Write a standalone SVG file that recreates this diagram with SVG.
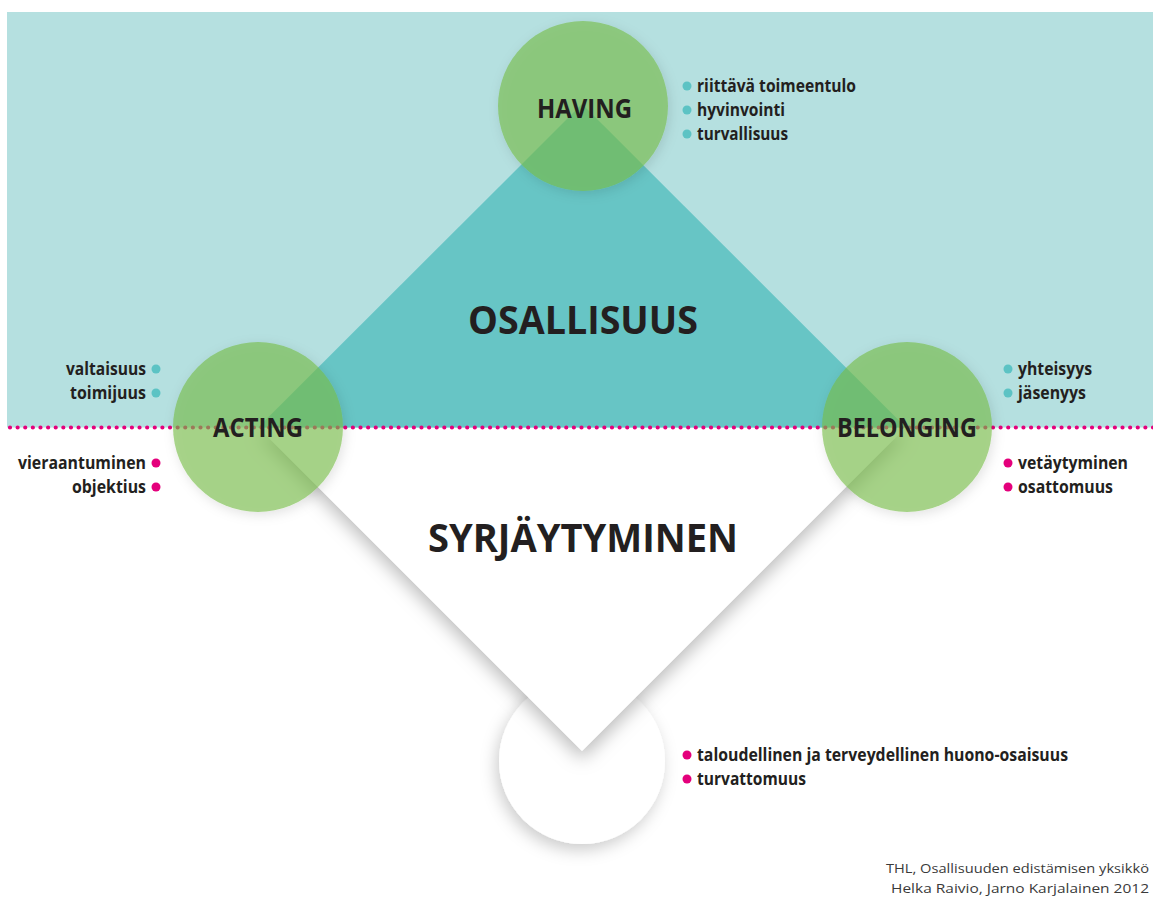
<svg xmlns="http://www.w3.org/2000/svg" width="1153" height="899" viewBox="0 0 1153 899">
  <defs>
    <style>
      .big { font-family: "Open Sans", "Noto Sans", "DejaVu Sans", sans-serif; font-weight: 700; fill: #231f20; }
      .lbl { font-family: "Open Sans", "Noto Sans", "DejaVu Sans", sans-serif; font-weight: 700; fill: #231f20; font-size: 27px; }
      .item { font-family: "Open Sans", "Noto Sans", "DejaVu Sans", sans-serif; font-weight: 700; fill: #231f20; font-size: 17px; }
      .foot { font-family: "Open Sans", "Noto Sans", "DejaVu Sans", sans-serif; font-weight: 400; fill: #3a3a3a; font-size: 13px; }
      .green { fill: #75bb45; fill-opacity: 0.63; }
      .tdot { fill: #5cc3c4; }
      .mdot { fill: #e4007c; }
    </style>
    <filter id="shOut" x="-30%" y="-30%" width="160%" height="160%">
      <feGaussianBlur in="SourceAlpha" stdDeviation="6"/>
      <feOffset dx="2" dy="3" result="b"/>
      <feComposite in="b" in2="SourceAlpha" operator="out" result="o"/>
      <feFlood flood-color="#000" flood-opacity="0.18"/>
      <feComposite in2="o" operator="in" result="s"/>
      <feMerge><feMergeNode in="s"/><feMergeNode in="SourceGraphic"/></feMerge>
    </filter>
    <filter id="shTri" x="-20%" y="-20%" width="140%" height="160%">
      <feGaussianBlur in="SourceAlpha" stdDeviation="9"/>
      <feOffset dx="0" dy="8" result="b"/>
      <feFlood flood-color="#000" flood-opacity="0.26"/>
      <feComposite in2="b" operator="in" result="s"/>
      <feMerge><feMergeNode in="s"/><feMergeNode in="SourceGraphic"/></feMerge>
    </filter>
    <filter id="shBot" x="-30%" y="-30%" width="160%" height="160%">
      <feGaussianBlur in="SourceAlpha" stdDeviation="8"/>
      <feOffset dx="-3" dy="6" result="b"/>
      <feFlood flood-color="#000" flood-opacity="0.2"/>
      <feComposite in2="b" operator="in" result="s"/>
      <feMerge><feMergeNode in="s"/><feMergeNode in="SourceGraphic"/></feMerge>
    </filter>
  </defs>

  <rect x="0" y="0" width="1153" height="899" fill="#ffffff"/>

  <!-- bottom circle -->
  <g id="bottom">
    <circle cx="582" cy="761" r="83" fill="#ffffff" filter="url(#shBot)"/>
  </g>

  <!-- diamond -->
  <g id="diamond">
    <polygon points="258,427 906,427 582,751" fill="#ffffff" filter="url(#shTri)"/>
    <rect x="7" y="12" width="1146" height="415.5" fill="#b5e0e0"/>
    <polygon points="258,427.5 582,104 906,427.5" fill="#67c5c5"/>
  </g>

  <g id="connectors">
    <line x1="10" y1="427.5" x2="1153" y2="427.5" stroke="#e4007c" stroke-width="4.2" stroke-linecap="round" stroke-dasharray="0 7.62"/>
  </g>

  <g id="having">
    <circle class="green" cx="583" cy="106" r="85" filter="url(#shOut)"/>
    <text class="lbl" x="584.5" y="118" text-anchor="middle" textLength="95" lengthAdjust="spacingAndGlyphs">HAVING</text>
    <circle class="tdot" cx="687" cy="86" r="4.5"/>
    <text class="item" x="697" y="92" textLength="159" lengthAdjust="spacingAndGlyphs">riittävä toimeentulo</text>
    <circle class="tdot" cx="687" cy="110" r="4.5"/>
    <text class="item" x="697" y="116" textLength="88" lengthAdjust="spacingAndGlyphs">hyvinvointi</text>
    <circle class="tdot" cx="687" cy="134" r="4.5"/>
    <text class="item" x="697" y="140" textLength="91" lengthAdjust="spacingAndGlyphs">turvallisuus</text>
  </g>

  <g id="acting">
    <circle class="green" cx="258" cy="427" r="85" filter="url(#shOut)"/>
    <text class="lbl" x="258" y="437" text-anchor="middle" textLength="90" lengthAdjust="spacingAndGlyphs">ACTING</text>
    <text class="item" x="146" y="375" text-anchor="end" textLength="80" lengthAdjust="spacingAndGlyphs">valtaisuus</text>
    <circle class="tdot" cx="156" cy="369" r="4.5"/>
    <text class="item" x="146" y="399" text-anchor="end" textLength="76" lengthAdjust="spacingAndGlyphs">toimijuus</text>
    <circle class="tdot" cx="156" cy="393" r="4.5"/>
    <text class="item" x="146" y="469" text-anchor="end" textLength="128" lengthAdjust="spacingAndGlyphs">vieraantuminen</text>
    <circle class="mdot" cx="156" cy="463" r="4.5"/>
    <text class="item" x="146" y="493" text-anchor="end" textLength="74" lengthAdjust="spacingAndGlyphs">objektius</text>
    <circle class="mdot" cx="156" cy="487" r="4.5"/>
  </g>

  <g id="belonging">
    <circle class="green" cx="907" cy="427" r="85" filter="url(#shOut)"/>
    <text class="lbl" x="907" y="437" text-anchor="middle" textLength="140" lengthAdjust="spacingAndGlyphs">BELONGING</text>
    <circle class="tdot" cx="1008" cy="369" r="4.5"/>
    <text class="item" x="1018" y="375" textLength="74" lengthAdjust="spacingAndGlyphs">yhteisyys</text>
    <circle class="tdot" cx="1008" cy="393" r="4.5"/>
    <text class="item" x="1018" y="399" textLength="68" lengthAdjust="spacingAndGlyphs">jäsenyys</text>
    <circle class="mdot" cx="1008" cy="463" r="4.5"/>
    <text class="item" x="1018" y="469" textLength="110" lengthAdjust="spacingAndGlyphs">vetäytyminen</text>
    <circle class="mdot" cx="1008" cy="487" r="4.5"/>
    <text class="item" x="1018" y="493" textLength="95" lengthAdjust="spacingAndGlyphs">osattomuus</text>
  </g>

  <g id="osallisuus">
    <text class="big" x="583" y="334" font-size="39" text-anchor="middle" textLength="230" lengthAdjust="spacingAndGlyphs">OSALLISUUS</text>
  </g>

  <g id="syrjaytyminen">
    <text class="big" x="583" y="552" font-size="40" text-anchor="middle" textLength="310" lengthAdjust="spacingAndGlyphs">SYRJÄYTYMINEN</text>
  </g>

  <g id="bottom-items">
    <circle class="mdot" cx="687" cy="755" r="4.5"/>
    <text class="item" x="697" y="761" textLength="371" lengthAdjust="spacingAndGlyphs">taloudellinen ja terveydellinen huono-osaisuus</text>
    <circle class="mdot" cx="687" cy="779" r="4.5"/>
    <text class="item" x="697" y="785" textLength="109" lengthAdjust="spacingAndGlyphs">turvattomuus</text>
  </g>

  <g id="footer">
    <text class="foot" x="1149" y="873" text-anchor="end" textLength="263" lengthAdjust="spacingAndGlyphs">THL, Osallisuuden edistämisen yksikkö</text>
    <text class="foot" x="1149" y="893" text-anchor="end" textLength="258" lengthAdjust="spacingAndGlyphs">Helka Raivio, Jarno Karjalainen 2012</text>
  </g>
</svg>
